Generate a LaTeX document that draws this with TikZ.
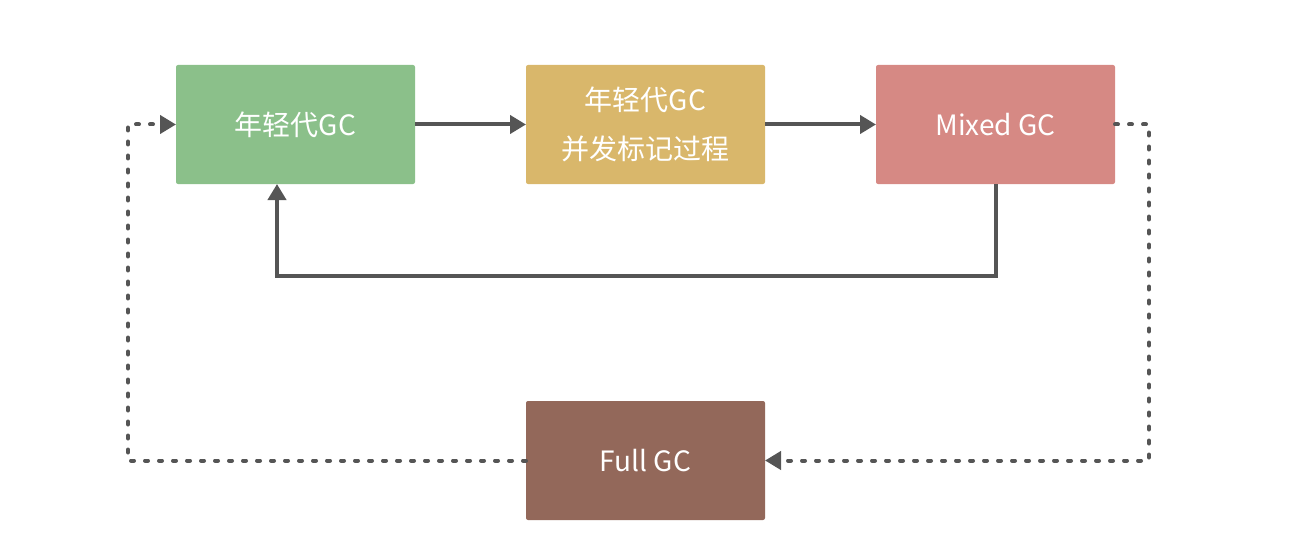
\documentclass[tikz,border=0pt]{standalone}
\usepackage{fontspec}
\setmainfont{Noto Sans CJK SC}
\usepackage{xcolor}
\usetikzlibrary{positioning,arrows.meta}

\definecolor{younggreen}{HTML}{8BC08A}
\definecolor{markyellow}{HTML}{D9B76B}
\definecolor{mixedred}{HTML}{D68984}
\definecolor{fullbrown}{HTML}{93685A}
\definecolor{linegray}{HTML}{555555}

\begin{document}
\begin{tikzpicture}
  \tikzstyle{gcbox}=[minimum width=119.5pt,minimum height=59.5pt,inner sep=0pt,outer sep=0pt,
    rounded corners=1pt,text=white,align=center,font=\fontsize{14}{24.5}\selectfont]
  \tikzstyle{flow}=[draw=linegray,line width=2pt,-{Triangle[length=8pt,width=9pt]}]
  \tikzstyle{fallback}=[flow,dash pattern=on 1.5pt off 5.5pt,line cap=round]

  \useasboundingbox (0,0) rectangle (645pt,-278pt);

  \node [gcbox,fill=younggreen] at (147.75pt,-62.25pt) (young) {年轻代GC};
  \node [gcbox,fill=markyellow,right=55.5pt of young] (mark) {年轻代GC\\并发标记过程};
  \node [gcbox,fill=mixedred,right=55.5pt of mark] (mixed) {Mixed GC};
  \node [gcbox,fill=fullbrown,below=108.5pt of mark] (full) {Full GC};

  % normal cycle
  \draw [flow] (young) -- (mark);
  \draw [flow] (mark) -- (mixed);
  \draw [flow] (mixed.south) -- ++(0,-46pt) -| ([xshift=-9.25pt]young.south);

  % fallback to full gc
  \draw [fallback] (mixed.east) -- ++(17pt,0) |- (full.east);
  \draw [fallback] (full.west) -- ++(-199pt,0) |- (young.west);
\end{tikzpicture}
\end{document}
